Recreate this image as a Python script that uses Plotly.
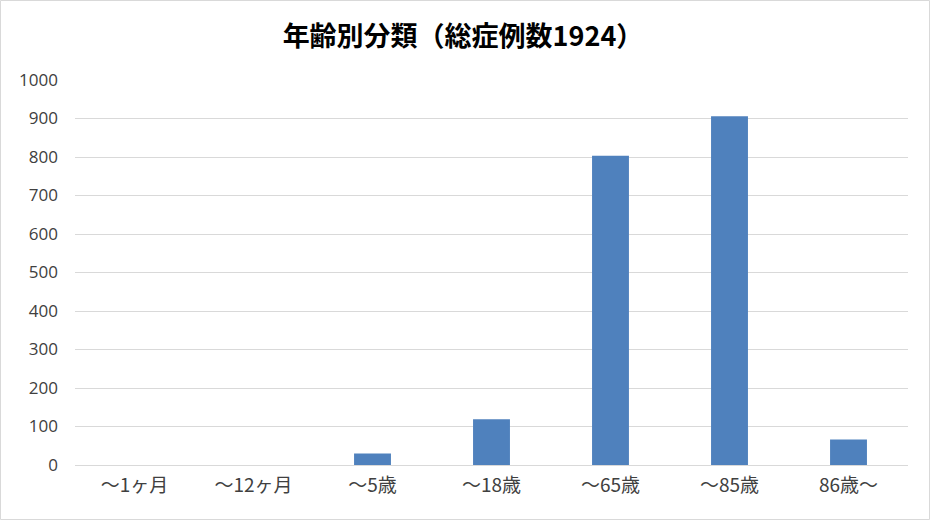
import plotly.graph_objects as go

categories = ["～1ヶ月", "～12ヶ月", "～5歳", "～18歳", "～65歳", "～85歳", "86歳～"]
values = [0, 0, 30, 119, 803, 906, 66]
y_ticks = [0, 100, 200, 300, 400, 500, 600, 700, 800, 900, 1000]
title_text = "年齢別分類（総症例数1924）"

W, H = 931, 521
L, R, T, B = 75, 23, 80, 56
pw, ph = W - L - R, H - T - B

fig = go.Figure(go.Bar(
    x=categories, y=values, marker_color="#4f81bd", marker_line_width=0,
    hoverinfo="x+y",
))

bx0 = (0.5 - L) / pw
bx1 = (929.5 - L) / pw
by1 = (H - B - 0.5) / ph
by0 = (H - B - 519.5) / ph

fig.update_layout(
    width=W, height=H,
    margin=dict(l=L, r=R, t=T, b=B, autoexpand=False),
    paper_bgcolor="white", plot_bgcolor="white",
    bargap=0.69,
    title=dict(text="<b>" + title_text + "</b>", x=463 / W, xref="container", xanchor="center",
               y=(H - 37) / H, yref="container", yanchor="middle",
               font=dict(family="Noto Sans CJK JP", size=27, color="#000000")),
    font=dict(family="Noto Sans CJK JP", color="#404040"),
    xaxis=dict(showgrid=False, showline=True, linecolor="#d9d9d9", linewidth=1,
               ticks="", tickfont=dict(size=19, color="#404040", family="Noto Sans CJK JP"),
               ticklabelstandoff=3),
    yaxis=dict(range=[0, 1000], tickvals=y_ticks, showgrid=True, gridcolor="#d9d9d9",
               gridwidth=1, zeroline=False, showline=False, ticks="",
               tickfont=dict(size=17, color="#404040", family="Open Sans"),
               ticklabelstandoff=16),
    shapes=[dict(type="rect", xref="paper", yref="paper", x0=bx0, x1=bx1, y0=by0, y1=by1,
                 line=dict(color="#d9d9d9", width=1), layer="below")],
    showlegend=False,
)

fig.write_html("out.html")
